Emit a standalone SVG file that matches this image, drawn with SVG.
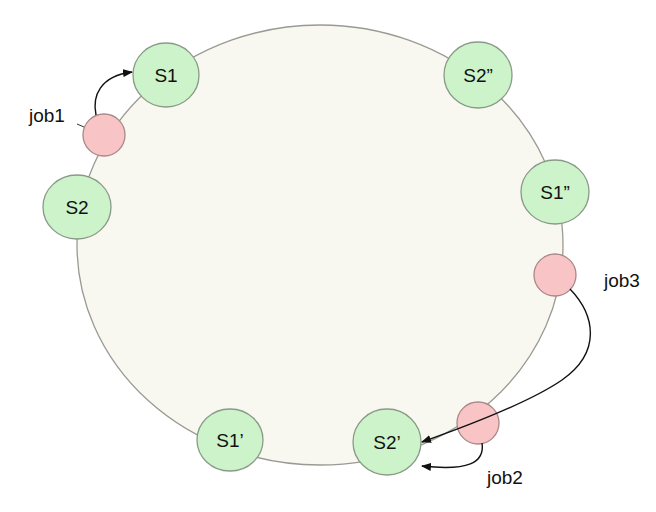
<svg xmlns="http://www.w3.org/2000/svg" width="656" height="512" viewBox="0 0 656 512">
<style>
.ring{fill:#f8f7f0;stroke:#9a9a94;stroke-width:1.3}
.srv{fill:#ccf3c9;stroke:#8a9a88;stroke-width:1.3}
.job{fill:#f8c4c6;stroke:#a88888;stroke-width:1.3}
.lbl{font-family:"Liberation Sans",Arial,sans-serif;font-size:19px;fill:#111;text-anchor:middle}
.jl{font-family:"Liberation Sans",Arial,sans-serif;font-size:19px;fill:#111}
.arr{fill:none;stroke:#111;stroke-width:1.4;marker-end:url(#ah)}
</style>
<defs>
<marker id="ah" markerWidth="10" markerHeight="8" refX="9" refY="4" orient="auto" markerUnits="userSpaceOnUse">
<path d="M0,0 L10,4 L0,8 Z" fill="#111"/>
</marker>
</defs>
<rect width="656" height="512" fill="#fff"/>
<ellipse class="ring" cx="320" cy="245" rx="243" ry="220"/>
<g id="job1"><circle class="job" cx="104" cy="135" r="21"/><text class="jl" x="29" y="122">job1</text><line x1="77" y1="124" x2="84" y2="127" stroke="#333" stroke-width="1"/></g>
<g id="job3"><circle class="job" cx="555" cy="275" r="21"/><text class="jl" x="604" y="287">job3</text></g>
<g id="job2"><circle class="job" cx="478" cy="423" r="21"/><text class="jl" x="487" y="484">job2</text></g>
<g id="S1"><ellipse class="srv" cx="166" cy="75" rx="33" ry="32"/><text class="lbl" x="166" y="82">S1</text></g>
<g id="S2"><ellipse class="srv" cx="77" cy="207" rx="34" ry="32"/><text class="lbl" x="77" y="214">S2</text></g>
<g id="S2pp"><ellipse class="srv" cx="478" cy="75" rx="34" ry="33"/><text class="lbl" x="478" y="82">S2”</text></g>
<g id="S1pp"><ellipse class="srv" cx="555" cy="192" rx="34" ry="32"/><text class="lbl" x="555" y="199">S1”</text></g>
<g id="S2p"><ellipse class="srv" cx="387" cy="442" rx="34" ry="33"/><text class="lbl" x="387" y="449">S2’</text></g>
<g id="S1p"><ellipse class="srv" cx="230" cy="440" rx="33" ry="31"/><text class="lbl" x="230" y="447">S1’</text></g>
<g id="connectors">
<path class="arr" d="M96 115 C92 96, 100 76, 132 72"/>
<path class="arr" d="M570 289 C595 315, 602 352, 562 380 C530 402, 470 425, 422 442"/>
<path class="arr" d="M482 443 C485 463, 468 471, 422 466"/>
</g>
</svg>
